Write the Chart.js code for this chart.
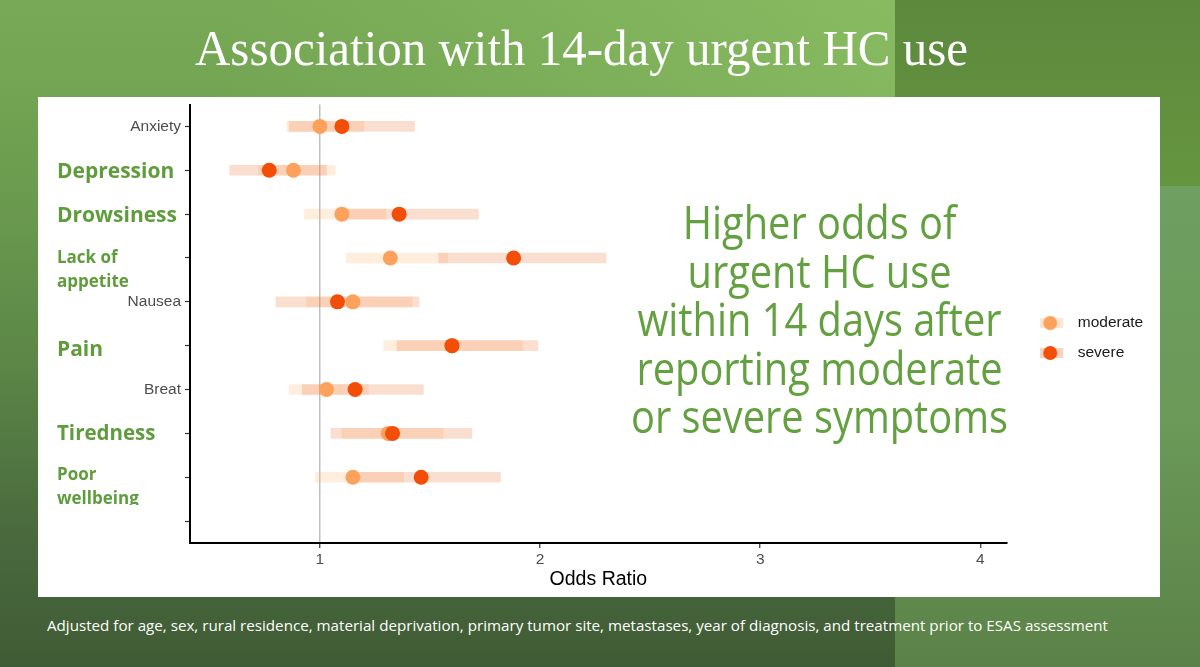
<!DOCTYPE html>
<html>
<head>
<meta charset="utf-8">
<title>Association with 14-day urgent HC use</title>
<script src="https://cdn.jsdelivr.net/npm/chart.js@4.4.1/dist/chart.umd.min.js"></script>
<style>
  html, body { margin: 0; padding: 0; }
  body {
    width: 1200px; height: 667px; position: relative; overflow: hidden;
    background: linear-gradient(180deg, #77a956 0%, #73a553 12%, #6a9a4e 30%, #5b8647 55%, #4a6a3e 80%, #3f5b35 100%);
    font-family: "Open Sans", sans-serif;
  }
  #topGlow { position: absolute; left: 0; top: 0; width: 895px; height: 97px;
    background: linear-gradient(100deg, rgba(170,220,120,0) 25%, rgba(170,220,120,0.35) 100%); }
  #sideTop { position: absolute; left: 895px; top: 0; width: 305px; height: 186px;
    background: linear-gradient(180deg, #5c893d, #66953f); }
  #sideBottom { position: absolute; left: 895px; top: 186px; width: 305px; height: 481px;
    background: linear-gradient(180deg, #6f9f61 0%, #6a9958 50%, #5b8248 100%); }
  #title { position: absolute; left: 195px; top: 23px; white-space: nowrap;
    font-family: "Liberation Serif", "DejaVu Serif", serif; font-size: 50px; line-height: 50px;
    color: #fff; transform-origin: 0 0; }
  #panel { position: absolute; left: 38px; top: 97px; width: 1122px; height: 500px; background: #fff; }
  #chart { position: absolute; left: 0; top: 0; }
  .yLabel { position: absolute; left: 19px; color: #5f9c3c; font-weight: 700; white-space: nowrap; overflow: hidden; }
  #callout { position: absolute; left: 631px; top: 197px; white-space: nowrap; text-align: center;
    font-size: 46px; line-height: 48.6px; font-weight: 400; color: #63a03f; transform-origin: 0 0; }
  #footer { position: absolute; left: 47px; top: 616px; white-space: nowrap;
    font-size: 14.5px; line-height: 20px; color: #fff; transform-origin: 0 0; }
</style>
</head>
<body>
<div id="topGlow"></div>
<div id="sideTop"></div>
<div id="sideBottom"></div>
<div id="title">Association with 14-day urgent HC use</div>
<div id="panel">
  <canvas id="chart" width="1122" height="500"></canvas>
</div>
<div id="callout">Higher odds of<br>urgent HC use<br>within 14 days after<br>reporting moderate<br>or severe symptoms</div>
<div id="footer">Adjusted for age, sex, rural residence, material deprivation, primary tumor site, metastases, year of diagnosis, and treatment prior to ESAS assessment</div>

<script>
// ---- data (odds ratios with 95% CI) ----
const symptoms = ["Anxiety", "Depression", "Drowsiness", "Lack of appetite", "Nausea",
                  "Pain", "Breat", "Tiredness", "Poor wellbeing", ""];
const highlighted = ["Depression", "Drowsiness", "Lack of appetite", "Pain", "Tiredness", "Poor wellbeing"];

const moderateOR   = [1.00, 0.88, 1.10, 1.32, 1.15, 1.60, 1.03, 1.31, 1.15, null];
const moderateLow  = [0.85, 0.72, 0.93, 1.12, 0.94, 1.29, 0.86, 1.10, 0.98, null];
const moderateHigh = [1.20, 1.07, 1.30, 1.58, 1.42, 1.92, 1.22, 1.56, 1.38, null];

const severeOR   = [1.10, 0.77, 1.36, 1.88, 1.08, 1.60, 1.16, 1.33, 1.46, null];
const severeLow  = [0.86, 0.59, 1.08, 1.54, 0.80, 1.35, 0.92, 1.05, 1.17, null];
const severeHigh = [1.43, 1.03, 1.72, 2.30, 1.45, 1.99, 1.47, 1.69, 1.82, null];

const xTicks = [1, 2, 3, 4];
const seriesNames = ["moderate", "severe"];

// ---- styles ----
const MOD_DOT = "#fda25c";
const SEV_DOT = "#f24e07";
const MOD_BAR = "rgba(253,174,107,0.22)";
const SEV_BAR = "rgba(230,85,13,0.19)";

const labelStyle = {
  "Depression":       { size: 21, lh: 28, dy: 0 },
  "Drowsiness":       { size: 21, lh: 28, dy: 0 },
  "Lack of appetite": { size: 17, lh: 24, dy: -1, lines: ["Lack of", "appetite"] },
  "Pain":             { size: 21, lh: 28, dy: 2 },
  "Tiredness":        { size: 20.5, lh: 28, dy: -1 },
  "Poor wellbeing":   { size: 17, lh: 24, dy: -3, lines: ["Poor", "wellbeing"], clip: 43 }
};

Chart.defaults.font.family = "'Liberation Sans', Arial, sans-serif";

function ciPairs(lo, hi) {
  return lo.map((v, i) => (v == null ? null : [v, hi[i]]));
}

// legend key like ggplot: faint bar behind a dot
function legendKey(dot, bar) {
  const c = document.createElement("canvas");
  c.width = 50; c.height = 16;
  const g = c.getContext("2d");
  g.fillStyle = bar; g.fillRect(0, 3, 26, 10);
  g.fillStyle = dot; g.beginPath(); g.arc(13, 8, 7, 0, Math.PI * 2); g.fill();
  return c;
}
const keys = { 2: legendKey(MOD_DOT, "rgba(253,174,107,0.3)"), 3: legendKey(SEV_DOT, "rgba(230,85,13,0.25)") };

const LEGEND_LEFT = 1002;
const LEGEND_DY = -10;
const legendShift = {
  id: "legendShift",
  afterLayout(chart) {
    const lg = chart.legend;
    if (!lg) return;
    const w = lg.width;
    lg.left = LEGEND_LEFT; lg.right = LEGEND_LEFT + w;
    lg.top += LEGEND_DY; lg.bottom += LEGEND_DY;
  }
};

const chart = new Chart(document.getElementById("chart").getContext("2d"), {
  type: "bar",
  data: {
    labels: symptoms,
    datasets: [
      { type: "bar", label: seriesNames[0] + " CI", data: ciPairs(moderateLow, moderateHigh),
        backgroundColor: MOD_BAR, borderWidth: 0, barThickness: 10, grouped: false, order: 3 },
      { type: "bar", label: seriesNames[1] + " CI", data: ciPairs(severeLow, severeHigh),
        backgroundColor: SEV_BAR, borderWidth: 0, barThickness: 10, grouped: false, order: 2 },
      { type: "line", label: seriesNames[0], data: moderateOR, showLine: false,
        pointRadius: 7.5, pointHoverRadius: 7.5, pointBorderWidth: 0,
        backgroundColor: MOD_DOT, borderColor: MOD_DOT, pointBackgroundColor: MOD_DOT, order: 1 },
      { type: "line", label: seriesNames[1], data: severeOR, showLine: false,
        pointRadius: 7.5, pointHoverRadius: 7.5, pointBorderWidth: 0,
        backgroundColor: SEV_DOT, borderColor: SEV_DOT, pointBackgroundColor: SEV_DOT, order: 0 }
    ]
  },
  options: {
    indexAxis: "y",
    responsive: false,
    animation: false,
    layout: { padding: { top: 6, right: 40, bottom: 4, left: 0 } },
    plugins: {
      tooltip: { enabled: false },
      legend: {
        position: "right",
        labels: {
          usePointStyle: true,
          color: "#1a1a1a",
          font: { size: 15.5 },
          padding: 14.5,
          sort: (a, b) => a.datasetIndex - b.datasetIndex,
          generateLabels: c => Chart.defaults.plugins.legend.labels.generateLabels(c)
            .filter(it => it.datasetIndex >= 2)
            .map(it => Object.assign(it, { pointStyle: keys[it.datasetIndex] }))
        }
      }
    },
    scales: {
      x: {
        type: "linear",
        min: 0.41,
        max: 4.12,
        afterFit: s => { s.height = 50; s.paddingLeft = 0; s.paddingRight = 0; },
        afterBuildTicks: s => { s.ticks = xTicks.map(v => ({ value: v })); },
        ticks: { color: "#4d4d4d", font: { size: 15.5 }, padding: 2 },
        grid: {
          color: ctx => (ctx.tick && ctx.tick.value === 1 ? "#bfbfbf" : "rgba(0,0,0,0)"),
          lineWidth: 1.5,
          tickColor: "#333",
          tickLength: 5,
          tickWidth: 1.2
        },
        border: { display: true, color: "#000", width: 2 },
        title: { display: true, text: "Odds Ratio", color: "#000", font: { size: 19.5 }, padding: { top: 2, bottom: 2 } }
      },
      y: {
        type: "category",
        offset: true,
        afterFit: s => { s.width = 152; s.paddingTop = 0; s.paddingBottom = 0; },
        ticks: {
          color: "#4d4d4d",
          font: { size: 15.5 },
          padding: 4,
          autoSkip: false,
          callback: (v, i) => (highlighted.includes(symptoms[i]) ? "" : symptoms[i])
        },
        grid: { offset: false, drawOnChartArea: false, tickColor: "#333", tickLength: 5, tickWidth: 1.2 },
        border: { display: true, color: "#000", width: 2 }
      }
    }
  },
  plugins: [legendShift]
});

// slide text boxes laid over the hidden category labels
const panel = document.getElementById("panel");
const yScale = chart.scales.y;
highlighted.forEach(name => {
  const st = labelStyle[name];
  const idx = symptoms.indexOf(name);
  const yc = yScale.getPixelForValue(idx) + st.dy;
  const d = document.createElement("div");
  d.className = "yLabel";
  d.style.fontSize = st.size + "px";
  d.style.lineHeight = st.lh + "px";
  d.style.top = (yc - st.lh / 2) + "px";
  (st.lines || [name]).forEach((t, k) => {
    if (k) d.appendChild(document.createElement("br"));
    d.appendChild(document.createTextNode(t));
  });
  if (st.clip) d.style.height = st.clip + "px";
  panel.appendChild(d);
});

// squeeze text boxes to the widths they have on the slide
function fitWidth(id, target) {
  const el = document.getElementById(id);
  const w = el.getBoundingClientRect().width;
  el.style.transform = "scaleX(" + (target / w) + ")";
}
fitWidth("title", 773);
fitWidth("callout", 377);
fitWidth("footer", 1061);
</script>
</body>
</html>
